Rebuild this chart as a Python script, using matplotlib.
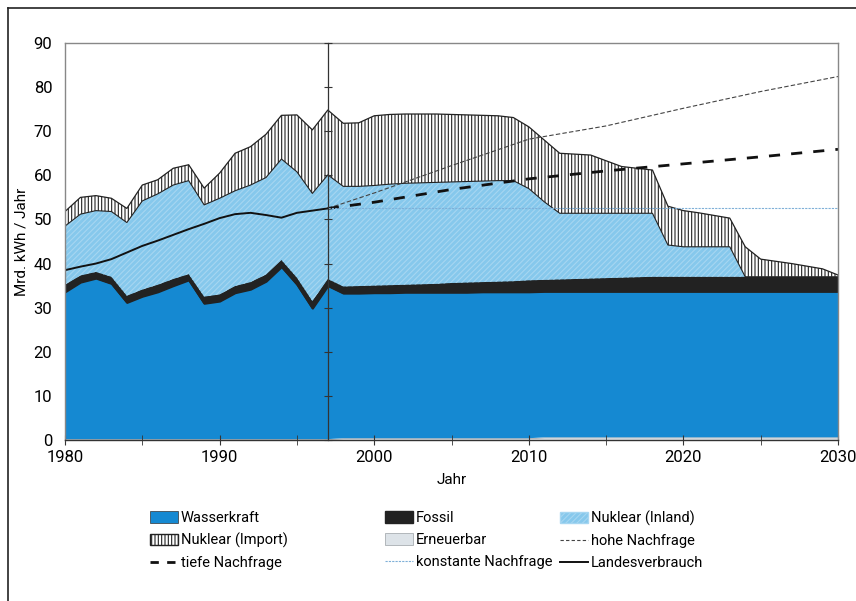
import numpy as np
import matplotlib
matplotlib.use('Agg')
from matplotlib import pyplot as plt
from matplotlib.lines import Line2D
from matplotlib.patches import Patch

plt.rcParams['font.family'] = ['Roboto', 'DejaVu Sans']
plt.rcParams['hatch.linewidth'] = 0.8

years = np.arange(1980, 2031)

# Mrd. kWh / Jahr, Anteile (gestapelt)
erneuerbar = [0.2] * 18 + [0.4] * 13 + [0.6] * 20
wasserkraft = [33.4, 35.6, 36.5, 35.3, 31.0, 32.4, 33.4, 34.8, 36.1, 30.8,
               31.3, 33.2, 34.0, 35.8, 39.1, 35.1, 29.7, 34.8,
               32.9, 32.9, 33.0, 33.0, 33.1, 33.1, 33.1, 33.1, 33.1, 33.2, 33.2, 33.2, 33.2,
               33.1, 33.1, 33.1, 33.1, 33.1, 33.1, 33.1, 33.1, 33.1, 33.1,
               33.1, 33.1, 33.1, 33.1, 33.1, 33.1, 33.1, 33.1, 33.1, 33.1]
fossil = [1.6, 1.5, 1.4, 1.5, 1.5, 1.5, 1.6, 1.5, 1.3, 1.5,
          1.5, 1.5, 1.6, 1.5, 1.5, 1.5, 1.6, 1.5,
          1.5, 1.6, 1.6, 1.7, 1.7, 1.8, 1.9, 2.1, 2.2, 2.2, 2.3, 2.4, 2.6,
          2.6, 2.7, 2.8, 2.9, 3.0, 3.1, 3.2, 3.3, 3.3, 3.3,
          3.3, 3.3, 3.3, 3.3, 3.3, 3.3, 3.3, 3.3, 3.3, 3.3]
nuklear_inland = [13.3, 13.9, 13.9, 14.8, 16.6, 20.1, 20.6, 21.3, 21.2, 20.8,
                  21.8, 21.6, 22.0, 22.0, 22.9, 24.0, 24.4, 23.6,
                  22.7, 22.6, 22.7, 22.9, 23.0, 23.0, 23.0, 22.9, 22.9, 22.9, 22.9, 22.8, 20.8,
                  17.7, 15.0, 14.9, 14.8, 14.7, 14.6, 14.5, 14.4, 7.2, 6.8,
                  6.8, 6.8, 6.8, 0.0, 0.0, 0.0, 0.0, 0.0, 0.0, 0.0]
nuklear_import = [3.3, 3.8, 3.4, 3.0, 3.2, 3.6, 3.2, 3.8, 3.6, 3.8,
                  5.7, 8.5, 8.7, 9.8, 9.9, 12.9, 14.4, 14.7,
                  14.3, 14.4, 15.8, 15.8, 15.7, 15.6, 15.5, 15.3, 15.1, 14.9, 14.7, 14.3, 14.0,
                  14.0, 13.6, 13.4, 13.2, 11.9, 10.6, 10.2, 9.8, 8.8, 8.2,
                  7.7, 7.1, 6.5, 6.8, 4.0, 3.5, 3.0, 2.4, 1.8, 0.4]

# Verbrauch bis 1997
hist_years = np.arange(1980, 1998)
landesverbrauch = [38.5, 39.3, 40.0, 41.0, 42.5, 44.0, 45.2, 46.5, 47.8, 49.0,
                   50.3, 51.2, 51.5, 51.0, 50.4, 51.5, 52.0, 52.5]

# Nachfrage-Szenarien ab 1997
szen_years = [1997, 2000, 2005, 2010, 2015, 2020, 2025, 2030]
hohe = [52.5, 56.0, 62.2, 68.2, 71.2, 75.2, 79.0, 82.4]
tiefe = [52.5, 53.9, 56.8, 59.2, 61.0, 62.6, 64.2, 65.9]
konstant = [52.5] * 8

c_wasser = '#1589d2'
c_fossil = '#222222'
c_inland = '#86c8ec'
c_ern = '#dde3e8'

fig = plt.figure(figsize=(8.56, 6.01), dpi=100)
ax = fig.add_axes([65/856, 1-440/601, (838-65)/856, (440-43)/601])

polys = ax.stackplot(years, erneuerbar, wasserkraft, fossil, nuklear_inland, nuklear_import,
                     colors=[c_ern, c_wasser, c_fossil, c_inland, 'white'], linewidth=0)
polys[0].set_edgecolor('#9aa0a4'); polys[0].set_linewidth(0.5)
polys[2].set_edgecolor('#222222'); polys[2].set_linewidth(1.5)
polys[3].set_hatch('//////'); polys[3].set_edgecolor('#a6d6f1'); polys[3].set_linewidth(0)
polys[4].set_hatch('|||||'); polys[4].set_edgecolor('#222222'); polys[4].set_linewidth(0)

# Umrisse
tops = np.cumsum([erneuerbar, wasserkraft, fossil, nuklear_inland, nuklear_import], axis=0)
ax.plot(years, tops[1], color='#222222', lw=1.2)
ax.plot(years, tops[3], color='#222222', lw=0.8)
ax.plot(years, tops[4], color='#222222', lw=0.9)

ax.plot(hist_years, landesverbrauch, color='#111111', lw=1.4)
ax.plot(szen_years, hohe, color='#444444', lw=0.8, ls=(0, (4, 2)))
ax.plot(szen_years, tiefe, color='#111111', lw=2.0, ls=(0, (4, 4)))
ax.plot(szen_years, konstant, color='#7fb0d8', lw=0.8, ls=(0, (2, 1)))

ax.set_xlim(1980, 2030)
ax.set_ylim(0, 90)
ax.set_xticks(np.arange(1980, 2031, 10))
ax.set_xticks(np.arange(1980, 2031, 5), minor=True)
ax.set_yticks(np.arange(0, 91, 10))
ax.tick_params(axis='x', which='both', direction='inout', length=7, labelsize=12, color='#333333')
ax.tick_params(axis='y', length=0, labelsize=12, pad=9)
for s in ax.spines.values():
    s.set_color('#888888')
    s.set_linewidth(1)
ax.spines['bottom'].set_color('#333333')
ax.set_xlabel('Jahr', fontsize=11, labelpad=6)
ax.set_ylabel('Mrd. kWh / Jahr', fontsize=11, labelpad=4)

# Achse bei 1997
ax2 = ax.twinx()
ax2.set_ylim(0, 90)
ax2.set_yticks(np.arange(0, 91, 10))
ax2.set_yticklabels([])
ax2.spines['right'].set_position(('data', 1997))
ax2.spines['right'].set_color('#333333')
ax2.spines['right'].set_linewidth(0.9)
for k in ['top', 'left', 'bottom']:
    ax2.spines[k].set_visible(False)
ax2.tick_params(axis='y', direction='inout', length=6, color='#333333')

col1 = [
    Patch(facecolor=c_wasser, edgecolor='#333333', lw=0.5, label='Wasserkraft'),
    Patch(facecolor='white', edgecolor='#222222', hatch='|||||', label='Nuklear (Import)'),
    Line2D([], [], color='#111111', lw=2.0, ls=(0, (3, 3)), label='tiefe Nachfrage'),
]
col2 = [
    Patch(facecolor=c_fossil, edgecolor='#222222', label='Fossil'),
    Patch(facecolor=c_ern, edgecolor='#9aa0a4', lw=0.5, label='Erneuerbar'),
    Line2D([], [], color='#7fb0d8', lw=0.8, ls=(0, (2, 1)), label='konstante Nachfrage'),
]
col3 = [
    Patch(facecolor=c_inland, edgecolor='#a6d6f1', hatch='//////', label='Nuklear (Inland)'),
    Line2D([], [], color='#444444', lw=0.8, ls=(0, (3, 2)), label='hohe Nachfrage'),
    Line2D([], [], color='#111111', lw=1.4, label='Landesverbrauch'),
]
for hs, x0 in [(col1, 150), (col2, 385), (col3, 560)]:
    fig.legend(handles=hs, loc='upper left', bbox_to_anchor=(x0/856, 1-511/601),
               frameon=False, fontsize=10.5, handlelength=1.95, handleheight=0.8,
               handletextpad=0.15, labelspacing=0.55, borderpad=0, borderaxespad=0)

# Rahmen
fig.add_artist(Line2D([8/856, 8/856], [0, 1-8/601], color='#222222', lw=1.2))
fig.add_artist(Line2D([8/856, 1], [1-8/601, 1-8/601], color='#222222', lw=1.2))

fig.savefig('out.png', dpi=100)
